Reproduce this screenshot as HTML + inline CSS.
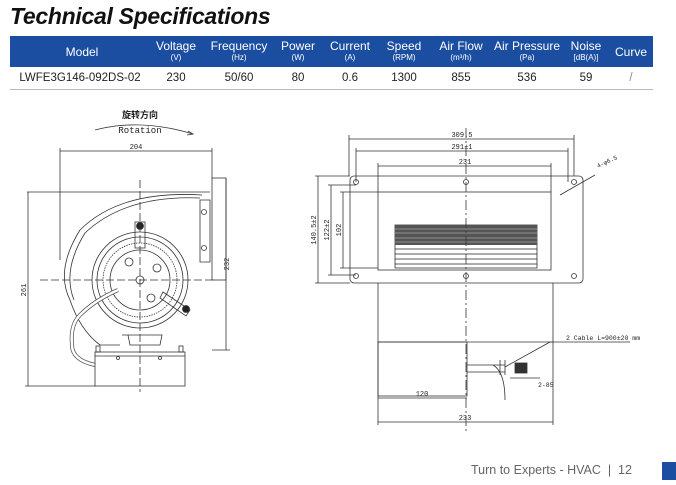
<!DOCTYPE html>
<html><head><meta charset="utf-8"><style>
body{margin:0;width:676px;height:485px;background:#fff;position:relative;overflow:hidden;font-family:"Liberation Sans",sans-serif}
.t{position:absolute;left:10px;top:3px;font-size:23px;font-weight:bold;font-style:italic;color:#111;letter-spacing:-0.3px}
.bar{position:absolute;left:10px;top:36px;width:643px;height:31px;background:#1b4ea0}
.c{position:absolute;text-align:center;color:#fff;transform:translateX(-50%);white-space:nowrap}
.c b{font-weight:normal;font-size:12px;display:block;line-height:13px;margin-top:2px}
.c i{font-style:normal;font-size:8px;display:block;line-height:10px}
.d{position:absolute;top:72px;font-size:11.5px;color:#222;transform:translateX(-50%);white-space:nowrap}
.ln{position:absolute;left:10px;top:89px;width:643px;height:1px;background:#bbb}
.f{position:absolute;left:471px;top:463px;font-size:12.5px;color:#666}
.sq{position:absolute;left:662px;top:462px;width:14px;height:18px;background:#1b4ea0}
</style></head><body>
<div class="t">Technical Specifications</div>
<div class="bar"></div>
<div class="c" style="left:82px;top:44px"><b>Model</b></div>
<div class="c" style="left:176px;top:38px"><b>Voltage</b><i>(V)</i></div>
<div class="c" style="left:239px;top:38px"><b>Frequency</b><i>(Hz)</i></div>
<div class="c" style="left:298px;top:38px"><b>Power</b><i>(W)</i></div>
<div class="c" style="left:350px;top:38px"><b>Current</b><i>(A)</i></div>
<div class="c" style="left:404px;top:38px"><b>Speed</b><i>(RPM)</i></div>
<div class="c" style="left:461px;top:38px"><b>Air Flow</b><i>(m³/h)</i></div>
<div class="c" style="left:527px;top:38px"><b>Air Pressure</b><i>(Pa)</i></div>
<div class="c" style="left:586px;top:38px"><b>Noise</b><i>[dB(A)]</i></div>
<div class="c" style="left:631px;top:44px"><b>Curve</b></div>
<div class="d" style="left:80px">LWFE3G146-092DS-02</div>
<div class="d" style="left:176px">230</div>
<div class="d" style="left:239px">50/60</div>
<div class="d" style="left:298px">80</div>
<div class="d" style="left:350px">0.6</div>
<div class="d" style="left:404px">1300</div>
<div class="d" style="left:461px">855</div>
<div class="d" style="left:527px">536</div>
<div class="d" style="left:586px">59</div>
<div class="d" style="left:631px;color:#888">/</div>
<div class="ln"></div>
<svg width="676" height="485" style="position:absolute;left:0;top:0" fill="none" stroke="#333" stroke-width="0.8" font-family="Liberation Mono,monospace">
<text x="140" y="118" font-size="9" fill="#222" stroke="none" text-anchor="middle" font-family="Liberation Sans,Noto Sans CJK SC,sans-serif" font-weight="bold">旋转方向</text>
<text x="140" y="133" font-size="9" fill="#222" stroke="none" text-anchor="middle">Rotation</text>
<path d="M95 130 Q140 118 193 134"/><path d="M188 131 L193 134 L187 135"/>
<line x1="60" y1="151" x2="212" y2="151"/><line x1="60" y1="148" x2="60" y2="260"/><line x1="212" y1="148" x2="212" y2="178"/>
<text x="136" y="149" font-size="7" fill="#222" stroke="none" text-anchor="middle">204</text>
<line x1="27" y1="192" x2="210" y2="192"/>
<line x1="28" y1="192" x2="28" y2="386"/><line x1="25" y1="386" x2="96" y2="386"/>
<text x="26" y="290" font-size="7" fill="#222" stroke="none" transform="rotate(-90 26 290)" text-anchor="middle">261</text>
<line x1="226" y1="178" x2="226" y2="350"/><line x1="212" y1="350" x2="230" y2="350"/>
<text x="229" y="264" font-size="7" fill="#222" stroke="none" transform="rotate(-90 229 264)" text-anchor="middle">232</text>
<rect x="212" y="178" width="14" height="102"/>
<path d="M200 200 L210 200 L210 262 L200 262 Z"/><circle cx="204" cy="212" r="2.5"/><circle cx="204" cy="248" r="2.5"/>
<path d="M202 195 Q120 190 80 230 Q55 270 70 300 Q80 330 100 345 L120 345"/>
<path d="M200 198 Q125 195 85 233 Q62 270 74 300"/>
<circle cx="140" cy="280" r="48"/><circle cx="140" cy="280" r="43"/><circle cx="140" cy="280" r="37" stroke-dasharray="1.5 1"/><circle cx="140" cy="280" r="30"/>
<circle cx="140" cy="280" r="4"/><circle cx="129" cy="262" r="4"/><circle cx="157" cy="268" r="4"/><circle cx="151" cy="298" r="4"/>
<rect x="135" y="222" width="10" height="26"/><circle cx="140" cy="226" r="3.5" fill="#222"/>
<path d="M163 292 L190 310 L186 316 L160 298 Z"/><circle cx="186" cy="309" r="3.5" fill="#222"/>
<path d="M118 290 Q95 300 80 315 Q70 325 72 345 Q72 360 95 365" stroke-width="4" stroke="#555"/>
<path d="M118 290 Q95 300 80 315 Q70 325 72 345 Q72 360 95 365" stroke-width="2.5" stroke="#fff"/>
<path d="M122 335 L128 335 L130 345 L160 345 L162 335 Z"/>
<rect x="95" y="352" width="90" height="34"/><line x1="95" y1="356" x2="185" y2="356"/>
<rect x="96" y="346" width="4" height="6"/><rect x="179" y="346" width="4" height="6"/>
<circle cx="118" cy="358" r="1.5"/><circle cx="160" cy="358" r="1.5"/>
<line x1="140" y1="180" x2="140" y2="392" stroke-dasharray="8 3"/>
<line x1="40" y1="280" x2="215" y2="280" stroke-dasharray="8 3"/>
<line x1="349" y1="139" x2="574" y2="139"/><line x1="349" y1="135" x2="349" y2="176"/><line x1="574" y1="135" x2="574" y2="176"/>
<text x="462" y="137" font-size="7" fill="#222" stroke="none" text-anchor="middle">309.5</text>
<line x1="356" y1="151" x2="568" y2="151"/><line x1="356" y1="148" x2="356" y2="182"/><line x1="568" y1="148" x2="568" y2="182"/>
<text x="462" y="149" font-size="7" fill="#222" stroke="none" text-anchor="middle">291±1</text>
<line x1="378" y1="166" x2="551" y2="166"/><line x1="378" y1="163" x2="378" y2="192"/><line x1="551" y1="163" x2="551" y2="192"/>
<text x="465" y="164" font-size="7" fill="#222" stroke="none" text-anchor="middle">231</text>
<rect x="350" y="176" width="233" height="107" rx="4"/>
<rect x="378" y="192" width="173" height="78"/>
<g fill="none"><circle cx="356" cy="182" r="2.5"/><circle cx="466" cy="182" r="2.5"/><circle cx="574" cy="182" r="2.5"/><circle cx="356" cy="276" r="2.5"/><circle cx="466" cy="276" r="2.5"/><circle cx="574" cy="276" r="2.5"/></g>
<line x1="318" y1="176" x2="318" y2="283"/><line x1="315" y1="176" x2="350" y2="176"/><line x1="315" y1="283" x2="350" y2="283"/>
<text x="316" y="230" font-size="7" fill="#222" stroke="none" transform="rotate(-90 316 230)" text-anchor="middle">140.5±2</text>
<line x1="331" y1="185" x2="331" y2="275"/><line x1="328" y1="185" x2="356" y2="185"/><line x1="328" y1="275" x2="356" y2="275"/>
<text x="329" y="230" font-size="7" fill="#222" stroke="none" transform="rotate(-90 329 230)" text-anchor="middle">122±2</text>
<line x1="343" y1="192" x2="343" y2="268"/><line x1="340" y1="192" x2="378" y2="192"/><line x1="340" y1="268" x2="378" y2="268"/>
<text x="341" y="230" font-size="7" fill="#222" stroke="none" transform="rotate(-90 341 230)" text-anchor="middle">102</text>
<rect x="395" y="225" width="142" height="43"/>
<rect x="395" y="225" width="142" height="20" fill="#555" stroke="none"/>
<g stroke="#ccc" stroke-width="0.6"><line x1="395" y1="229" x2="537" y2="229"/><line x1="395" y1="233" x2="537" y2="233"/><line x1="395" y1="238" x2="537" y2="238"/><line x1="395" y1="242" x2="537" y2="242"/></g>
<g stroke="#222"><line x1="395" y1="249" x2="537" y2="249"/><line x1="395" y1="254" x2="537" y2="254"/><line x1="395" y1="259" x2="537" y2="259"/><line x1="395" y1="264" x2="537" y2="264"/></g>
<line x1="560" y1="195" x2="595" y2="175"/><text x="598" y="168" font-size="6" fill="#222" stroke="none" transform="rotate(-25 598 168)">4-φ6.5</text>
<path d="M378 283 L378 342 M553 283 L553 342"/>
<line x1="378" y1="342" x2="553" y2="342"/>
<rect x="378" y="342" width="89" height="54"/>
<line x1="378" y1="342" x2="378" y2="398"/>
<path d="M553 342 L553 390"/>
<path d="M467 365 L505 365 M467 372 L505 372"/>
<path d="M493 365 Q505 372 505 400" /><path d="M500 360 L500 375 M505 360 L505 375"/>
<rect x="515" y="363" width="12" height="10" fill="#333"/>
<line x1="505" y1="367" x2="550" y2="342"/><line x1="550" y1="342" x2="630" y2="342"/>
<text x="566" y="340" font-size="6.5" fill="#222" stroke="none">2 Cable L=900±20 mm</text>
<line x1="510" y1="378" x2="540" y2="378"/><text x="538" y="387" font-size="6.5" fill="#222" stroke="none">2-85</text>
<line x1="378" y1="398" x2="467" y2="398"/><text x="422" y="396" font-size="7" fill="#222" stroke="none" text-anchor="middle">120</text>
<line x1="378" y1="422" x2="553" y2="422"/><line x1="378" y1="398" x2="378" y2="425"/><line x1="553" y1="390" x2="553" y2="425"/>
<text x="465" y="420" font-size="7" fill="#222" stroke="none" text-anchor="middle">233</text>
<line x1="466" y1="128" x2="466" y2="432" stroke-dasharray="10 3 2 3"/>
</svg>
<div class="f">Turn to Experts - HVAC &nbsp;|&nbsp; 12</div>
<div class="sq"></div>
</body></html>
